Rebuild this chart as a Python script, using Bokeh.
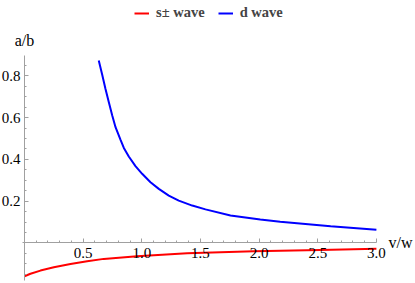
from bokeh.plotting import figure
from bokeh.models import Range1d, FixedTicker, Legend, LegendItem, Label, PrintfTickFormatter
from bokeh.embed import file_html
from bokeh.resources import INLINE

# d wave curve
d_v = [0.633, 0.662, 0.69, 0.719, 0.748, 0.776, 0.818, 0.847, 0.889, 0.946, 1.003, 1.074,
       1.145, 1.23, 1.315, 1.43, 1.543, 1.756, 2.01, 2.18, 2.61, 3.0]
d_a = [0.873, 0.806, 0.738, 0.674, 0.61, 0.554, 0.495, 0.455, 0.414, 0.368, 0.331, 0.291,
       0.259, 0.227, 0.203, 0.179, 0.161, 0.132, 0.112, 0.102, 0.08, 0.063]

# s+- wave curve
s_v = [0.0, 0.051, 0.136, 0.25, 0.392, 0.534, 0.676, 0.96, 1.387, 1.955, 2.52, 3.0]
s_a = [-0.159, -0.147, -0.132, -0.116, -0.1, -0.087, -0.076, -0.063, -0.049, -0.039, -0.033, -0.028]

x_ticks = [0.5, 1.0, 1.5, 2.0, 2.5, 3.0]
x_minor = [0.1, 0.2, 0.3, 0.4, 0.6, 0.7, 0.8, 0.9, 1.1, 1.2, 1.3, 1.4, 1.6, 1.7, 1.8, 1.9,
           2.1, 2.2, 2.3, 2.4, 2.6, 2.7, 2.8, 2.9]
y_ticks = [0.2, 0.4, 0.6, 0.8]
y_minor = [-0.15, -0.1, -0.05, 0.05, 0.1, 0.15, 0.25, 0.3, 0.35, 0.45, 0.5, 0.55, 0.65, 0.7, 0.75, 0.85]

FONT = "Liberation Serif"
AXCOL = "#a0a0a0"

p = figure(width=415, height=283, x_range=Range1d(-0.2046, 3.3333), y_range=Range1d(-0.1938, 1.1603),
           output_backend="svg", toolbar_location=None,
           min_border_left=0, min_border_right=0, min_border_top=0, min_border_bottom=0)
p.grid.visible = False
p.outline_line_color = None

r_s = p.line(s_v, s_a, line_color="#ff0000", line_width=2)
r_d = p.line(d_v, d_a, line_color="#0000ff", line_width=2)

for ax in (p.xaxis[0], p.yaxis[0]):
    ax.fixed_location = 0
    ax.axis_line_color = AXCOL
    ax.major_tick_line_color = AXCOL
    ax.minor_tick_line_color = AXCOL
    ax.major_tick_in = 4
    ax.major_tick_out = 0
    ax.minor_tick_in = 2
    ax.minor_tick_out = 0
    ax.major_label_text_font = FONT
    ax.major_label_text_font_size = "15px"
    ax.major_label_text_color = "black"
    ax.major_label_standoff = 4
    ax.formatter = PrintfTickFormatter(format="%.1f")

p.xaxis[0].major_label_standoff = 5
p.xaxis[0].bounds = (-0.017, 3.0)
p.yaxis[0].bounds = (-0.18, 0.897)
p.xaxis[0].ticker = FixedTicker(ticks=x_ticks, minor_ticks=x_minor)
p.yaxis[0].ticker = FixedTicker(ticks=y_ticks, minor_ticks=y_minor)

p.add_layout(Label(x=3.103, y=0, text="v/w", text_font=FONT, text_font_size="16px",
                   text_align="left", text_baseline="middle", text_color="black"))
p.add_layout(Label(x=0, y=0.926, text="a/b", text_font=FONT, text_font_size="16px",
                   text_align="center", text_baseline="bottom", text_color="black"))

legend = Legend(items=[LegendItem(label="s± wave", renderers=[r_s]),
                       LegendItem(label="d wave", renderers=[r_d])],
                orientation="horizontal", location=(134, 262),
                label_text_font=FONT, label_text_font_style="bold", label_text_font_size="14.5px",
                glyph_width=15, glyph_height=12, label_height=12, label_standoff=7, spacing=13,
                padding=0, margin=0, border_line_color=None, background_fill_alpha=0)
p.add_layout(legend)

open("out.html", "w").write(file_html(p, INLINE))
